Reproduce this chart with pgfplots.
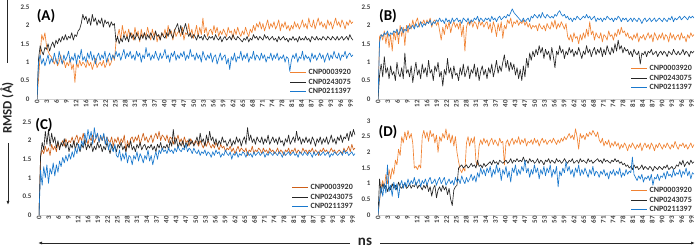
\documentclass[border=0pt]{standalone}
\usepackage{pgfplots}
\usepackage{pgfplotstable}
\pgfplotsset{compat=1.18}
\usepackage{fontspec}
\setmainfont{Carlito}
\usetikzlibrary{arrows.meta}
\definecolor{cor}{RGB}{240,130,50}
\definecolor{corc}{RGB}{205,95,25}
\definecolor{cbk}{RGB}{38,38,38}
\definecolor{cbl}{RGB}{25,120,205}

% ---------------- Panel A ----------------
\pgfplotstableread[row sep=\\]{y\\
0\\0.55\\1.2\\1.75\\1.6\\1.8\\1.45\\1.3\\1.2\\1.15\\
1.05\\0.95\\1.1\\0.9\\1.0\\1.2\\0.95\\1.05\\0.85\\1.0\\
0.9\\1.1\\0.8\\0.95\\0.45\\1.0\\0.85\\1.05\\0.9\\1.0\\
0.95\\0.85\\1.05\\0.9\\1.0\\0.8\\0.95\\1.1\\0.85\\0.95\\
1.0\\0.9\\1.05\\0.85\\0.95\\1.1\\0.9\\1.0\\1.2\\1.05\\
1.55\\1.7\\1.9\\1.6\\2.0\\1.75\\1.85\\1.65\\1.9\\1.7\\
1.8\\1.6\\1.95\\1.7\\1.85\\1.55\\1.9\\1.65\\1.8\\1.7\\
1.95\\1.75\\1.6\\1.9\\1.7\\1.85\\1.55\\1.75\\1.6\\1.8\\
1.7\\1.9\\1.65\\2.0\\1.75\\1.85\\1.6\\1.9\\1.7\\1.8\\
1.85\\1.7\\1.95\\1.6\\1.8\\1.75\\2.05\\1.7\\1.9\\1.65\\
1.8\\2.0\\1.7\\1.95\\1.75\\2.2\\1.8\\1.95\\1.7\\1.85\\
1.9\\1.75\\2.0\\1.8\\1.95\\1.7\\1.85\\1.75\\1.9\\1.8\\
1.7\\1.95\\1.8\\1.85\\1.65\\1.9\\1.75\\1.95\\1.8\\1.7\\
1.85\\1.75\\1.95\\1.8\\1.7\\1.9\\1.8\\2.0\\1.85\\2.05\\
1.95\\2.1\\1.9\\2.05\\1.85\\2.0\\2.15\\1.9\\2.05\\1.95\\
2.1\\1.9\\2.0\\2.15\\1.85\\2.05\\1.95\\2.1\\1.9\\2.0\\
1.85\\2.0\\1.9\\2.1\\1.95\\2.05\\1.9\\2.0\\2.15\\1.95\\
2.05\\1.9\\2.2\\2.0\\1.95\\2.15\\1.9\\2.05\\2.2\\2.0\\
2.1\\1.95\\2.05\\1.9\\2.15\\2.0\\2.1\\1.9\\2.05\\2.2\\
2.0\\2.1\\1.95\\2.15\\2.05\\1.9\\2.1\\2.0\\2.15\\2.05\\2.1\\
}\Ao
\pgfplotstableread[row sep=\\]{y\\
0\\1.1\\1.45\\1.3\\1.2\\1.4\\1.35\\1.5\\1.3\\1.45\\
1.55\\1.4\\1.6\\1.5\\1.65\\1.55\\1.7\\1.6\\1.75\\1.6\\
1.7\\1.65\\1.8\\1.6\\1.75\\1.7\\1.85\\1.9\\2.05\\2.3\\
2.15\\2.25\\2.05\\2.2\\2.0\\2.3\\2.1\\2.2\\2.0\\2.15\\
2.05\\2.2\\1.95\\2.15\\2.05\\2.1\\1.95\\2.1\\2.0\\2.05\\
1.55\\1.7\\1.5\\1.65\\1.55\\1.75\\1.6\\1.7\\1.55\\1.8\\
1.65\\1.75\\1.6\\1.8\\1.7\\1.6\\1.75\\1.65\\1.8\\1.6\\
1.75\\1.65\\1.8\\1.7\\1.6\\1.85\\1.7\\1.75\\1.6\\1.8\\
1.7\\1.65\\1.8\\1.7\\1.9\\1.75\\1.65\\1.85\\1.95\\2.05\\
1.8\\2.0\\1.75\\1.9\\2.05\\1.85\\1.7\\1.8\\1.65\\1.75\\
1.7\\1.6\\1.75\\1.65\\1.7\\1.6\\1.75\\1.65\\1.6\\1.7\\
1.65\\1.7\\1.6\\1.75\\1.65\\1.6\\1.7\\1.55\\1.65\\1.7\\
1.6\\1.65\\1.7\\1.6\\1.75\\1.65\\1.6\\1.7\\1.65\\1.6\\
1.55\\1.65\\1.6\\1.7\\1.55\\1.65\\1.6\\1.75\\1.65\\1.7\\
1.6\\1.7\\1.65\\1.6\\1.75\\1.65\\1.7\\1.6\\1.65\\1.7\\
1.6\\1.65\\1.55\\1.7\\1.6\\1.65\\1.7\\1.6\\1.65\\1.55\\
1.65\\1.6\\1.7\\1.6\\1.65\\1.55\\1.7\\1.6\\1.65\\1.6\\
1.7\\1.6\\1.65\\1.55\\1.7\\1.65\\1.6\\1.7\\1.6\\1.65\\
1.6\\1.7\\1.65\\1.6\\1.7\\1.65\\1.6\\1.7\\1.65\\1.6\\
1.7\\1.6\\1.65\\1.7\\1.6\\1.65\\1.7\\1.6\\1.75\\1.65\\1.6\\
}\Ak
\pgfplotstableread[row sep=\\]{y\\
0\\1.0\\1.2\\0.95\\1.1\\0.9\\1.05\\1.2\\0.95\\1.1\\
1.0\\1.25\\1.05\\0.95\\1.3\\1.1\\0.95\\1.2\\1.05\\1.15\\
1.3\\1.0\\1.15\\1.05\\1.25\\0.95\\1.2\\1.1\\1.35\\1.05\\
1.15\\1.0\\1.25\\1.1\\1.3\\1.05\\1.2\\0.95\\1.15\\1.25\\
1.05\\1.2\\1.1\\1.3\\1.0\\1.15\\1.25\\1.05\\1.2\\1.1\\
1.3\\1.15\\1.25\\1.05\\1.2\\1.35\\1.1\\1.25\\1.15\\1.3\\
1.1\\1.2\\1.05\\1.3\\1.15\\1.25\\1.0\\1.2\\1.1\\1.4\\
1.15\\1.25\\1.05\\1.2\\1.1\\1.3\\1.15\\1.05\\1.25\\1.1\\
1.2\\1.35\\1.1\\1.2\\1.0\\1.25\\1.15\\1.3\\1.05\\1.2\\
1.1\\1.25\\1.15\\1.3\\1.05\\1.2\\1.1\\1.35\\1.15\\1.2\\
1.05\\1.25\\1.1\\1.2\\1.0\\1.3\\1.15\\1.05\\1.2\\1.1\\
1.25\\1.0\\1.15\\1.2\\0.95\\1.1\\1.25\\1.05\\1.15\\1.2\\
0.95\\1.1\\0.8\\1.15\\1.05\\1.25\\1.0\\1.15\\1.1\\1.3\\
1.05\\1.2\\1.1\\1.25\\1.0\\1.15\\1.1\\1.3\\1.05\\1.2\\
1.15\\1.05\\1.25\\1.1\\1.2\\1.0\\1.15\\1.1\\1.25\\1.05\\
1.2\\1.1\\1.25\\1.05\\1.15\\1.1\\1.2\\1.0\\1.15\\1.1\\
0.75\\1.05\\1.2\\1.1\\1.25\\1.0\\1.15\\1.1\\1.3\\1.05\\
1.2\\1.1\\1.15\\1.0\\1.25\\1.1\\1.2\\1.05\\1.15\\1.25\\
1.1\\1.2\\1.0\\1.15\\1.25\\1.05\\1.2\\1.1\\1.3\\1.15\\
1.1\\1.25\\1.05\\1.2\\1.15\\1.3\\1.1\\1.2\\1.25\\1.15\\1.2\\
}\Ab

% ---------------- Panel B ----------------
\pgfplotstableread[row sep=\\]{y\\
0\\1.7\\1.75\\1.6\\1.85\\1.5\\1.8\\1.4\\1.75\\1.3\\
1.85\\1.6\\1.9\\1.5\\2.0\\1.7\\1.95\\1.45\\2.0\\1.8\\
2.05\\1.9\\2.15\\1.95\\2.1\\2.2\\1.95\\2.1\\2.05\\2.15\\
2.0\\2.15\\2.05\\2.2\\1.95\\2.1\\2.15\\2.0\\2.1\\1.85\\
1.6\\1.95\\1.75\\2.05\\1.9\\2.1\\1.8\\2.0\\2.1\\1.95\\
2.05\\1.9\\2.1\\1.7\\2.0\\1.3\\1.95\\2.1\\2.0\\2.15\\
1.95\\2.1\\2.05\\1.9\\2.15\\2.0\\2.1\\1.95\\2.05\\2.1\\
1.9\\2.05\\1.8\\2.1\\1.95\\1.7\\2.05\\1.85\\2.1\\1.65\\
2.0\\1.9\\2.15\\2.05\\2.2\\1.95\\2.1\\2.05\\2.15\\2.0\\
2.1\\2.05\\2.15\\2.0\\2.1\\1.95\\2.05\\1.9\\2.0\\1.95\\
2.0\\1.85\\2.05\\1.95\\1.9\\2.0\\1.85\\2.05\\1.95\\1.9\\
2.1\\1.95\\2.15\\1.9\\2.05\\1.95\\2.1\\2.0\\1.9\\2.05\\
1.7\\1.6\\1.75\\1.55\\1.8\\1.65\\1.7\\1.5\\1.75\\1.6\\
1.8\\1.65\\1.9\\1.7\\2.1\\1.75\\1.85\\1.6\\1.8\\1.7\\
1.65\\1.8\\1.55\\1.75\\1.7\\1.6\\1.85\\1.7\\1.75\\1.6\\
1.8\\1.7\\1.9\\1.75\\1.95\\1.8\\1.85\\1.7\\1.8\\1.65\\
1.7\\1.6\\1.75\\1.65\\1.8\\1.55\\1.7\\1.65\\1.75\\1.6\\
1.7\\1.8\\1.65\\1.75\\1.55\\1.8\\1.7\\1.6\\1.75\\1.65\\
1.8\\1.6\\1.75\\1.7\\1.55\\1.8\\1.65\\1.75\\1.6\\1.7\\
1.75\\1.6\\1.8\\1.65\\1.7\\1.55\\1.75\\1.65\\1.8\\1.7\\1.75\\
}\Bo
\pgfplotstableread[row sep=\\]{y\\
0\\0.65\\0.95\\0.6\\1.15\\0.7\\0.85\\0.55\\0.9\\0.65\\
0.75\\0.5\\1.0\\0.7\\0.6\\0.85\\0.55\\1.25\\0.7\\0.8\\
0.6\\0.9\\0.45\\0.75\\1.0\\0.65\\0.8\\0.55\\0.95\\0.7\\
0.85\\0.6\\1.05\\0.7\\0.8\\0.5\\0.9\\0.75\\1.0\\0.6\\
0.75\\0.35\\0.8\\0.65\\1.1\\0.7\\0.85\\0.55\\0.9\\0.65\\
0.7\\0.5\\0.85\\0.65\\0.95\\0.6\\0.75\\0.9\\0.55\\0.8\\
0.7\\0.95\\0.6\\0.85\\0.5\\0.75\\0.9\\0.65\\0.8\\0.55\\
0.85\\0.7\\0.95\\0.6\\0.8\\1.05\\0.7\\0.9\\0.75\\1.0\\
1.2\\0.85\\1.05\\0.75\\1.0\\0.8\\0.95\\0.65\\0.85\\0.55\\
0.8\\0.5\\0.9\\0.6\\1.1\\0.85\\1.25\\1.05\\1.3\\1.15\\
1.35\\1.2\\1.45\\1.25\\1.4\\1.1\\1.35\\1.2\\1.3\\1.05\\
1.4\\1.15\\0.85\\1.3\\1.2\\1.45\\1.25\\1.35\\1.1\\1.3\\
1.2\\1.4\\1.25\\1.35\\1.15\\1.3\\1.2\\1.4\\1.25\\1.1\\
1.3\\1.2\\1.45\\1.25\\1.35\\1.15\\1.3\\1.4\\1.2\\1.35\\
1.25\\1.4\\1.15\\1.35\\1.2\\1.45\\1.3\\1.2\\1.4\\1.25\\
1.5\\1.3\\1.6\\1.35\\1.45\\1.25\\1.4\\1.3\\1.35\\1.2\\
1.3\\1.15\\1.35\\1.25\\1.2\\1.3\\0.95\\1.25\\1.2\\1.3\\
1.15\\1.3\\1.25\\1.35\\1.2\\1.25\\1.3\\1.15\\1.25\\1.3\\
1.2\\1.3\\1.25\\1.15\\1.3\\1.25\\1.2\\1.35\\1.25\\1.2\\
1.3\\1.2\\1.25\\1.35\\1.2\\1.3\\1.25\\1.15\\1.3\\1.25\\1.3\\
}\Bk
\pgfplotstableread[row sep=\\]{y\\
0\\1.55\\1.75\\1.7\\1.8\\1.75\\1.85\\1.7\\1.8\\1.75\\
1.85\\1.8\\1.9\\1.75\\1.85\\1.95\\1.8\\1.9\\1.85\\2.0\\
1.9\\1.95\\2.0\\1.9\\2.05\\1.95\\2.0\\2.1\\1.95\\2.05\\
2.0\\2.1\\2.05\\2.15\\2.0\\2.1\\2.05\\2.15\\2.1\\2.2\\
2.1\\2.15\\2.05\\2.2\\2.1\\2.15\\2.05\\2.2\\2.1\\2.15\\
2.2\\2.1\\2.15\\2.05\\2.2\\2.15\\2.1\\2.2\\2.05\\2.15\\
2.1\\2.2\\2.15\\2.25\\2.1\\2.2\\2.15\\2.1\\2.2\\2.15\\
2.2\\2.1\\2.25\\2.15\\2.2\\2.1\\2.2\\2.25\\2.15\\2.2\\
2.25\\2.2\\2.3\\2.25\\2.35\\2.45\\2.35\\2.3\\2.25\\2.2\\
2.15\\2.1\\2.2\\2.1\\2.15\\2.2\\2.1\\2.25\\2.2\\2.3\\
2.25\\2.2\\2.3\\2.2\\2.35\\2.25\\2.2\\2.3\\2.25\\2.2\\
2.25\\2.2\\2.3\\2.25\\2.35\\2.4\\2.3\\2.25\\2.3\\2.2\\
2.25\\2.15\\2.2\\2.1\\2.2\\2.15\\2.25\\2.2\\2.15\\2.2\\
2.25\\2.2\\2.3\\2.2\\2.25\\2.15\\2.2\\2.25\\2.1\\2.2\\
2.15\\2.2\\2.1\\2.2\\2.15\\2.25\\2.2\\2.15\\2.2\\2.1\\
2.2\\2.15\\2.25\\2.2\\2.1\\2.2\\2.15\\2.2\\2.1\\2.15\\
2.2\\2.1\\2.2\\2.15\\2.1\\2.2\\2.15\\2.05\\2.15\\2.2\\
2.1\\2.15\\2.2\\2.1\\2.15\\2.2\\2.1\\2.15\\2.2\\2.15\\
2.1\\2.2\\2.15\\2.1\\2.2\\2.15\\2.25\\2.1\\2.2\\2.15\\
2.2\\2.25\\2.15\\2.2\\2.25\\2.2\\2.15\\2.25\\2.2\\2.25\\2.2\\
}\Bb

% ---------------- Panel C ----------------
\pgfplotstableread[row sep=\\]{y\\
0\\1.55\\1.75\\1.65\\1.85\\1.7\\1.8\\1.6\\1.9\\1.75\\
1.85\\1.7\\1.95\\1.8\\1.9\\2.0\\1.85\\2.05\\1.9\\2.0\\
1.95\\2.1\\1.9\\2.05\\2.15\\1.95\\2.1\\2.0\\2.2\\1.95\\
2.05\\1.9\\2.1\\2.0\\2.15\\1.95\\2.05\\2.2\\1.95\\2.1\\
2.0\\2.15\\1.9\\2.1\\2.0\\1.95\\2.1\\1.85\\2.05\\1.95\\
2.1\\1.9\\2.05\\1.95\\2.15\\1.7\\2.0\\1.85\\2.05\\2.1\\
1.95\\2.1\\2.0\\2.15\\1.9\\2.05\\2.2\\2.0\\2.1\\1.95\\
2.05\\2.15\\1.95\\2.1\\2.2\\2.05\\2.25\\2.0\\2.15\\2.1\\
2.0\\2.15\\1.95\\2.1\\2.05\\1.9\\2.1\\2.0\\2.15\\1.95\\
2.05\\1.9\\2.1\\1.95\\2.0\\1.85\\2.05\\1.95\\1.9\\2.0\\
1.95\\1.85\\2.0\\1.9\\1.8\\1.95\\1.85\\2.0\\1.9\\1.8\\
1.9\\1.8\\1.95\\1.85\\1.75\\1.9\\1.8\\1.85\\1.7\\1.8\\
1.75\\1.85\\1.7\\1.8\\1.65\\1.75\\1.85\\1.7\\1.8\\1.75\\
1.7\\1.8\\1.6\\1.75\\1.7\\1.85\\1.65\\1.75\\1.7\\1.8\\
1.75\\1.65\\1.8\\1.7\\1.75\\1.65\\1.8\\1.7\\1.75\\1.65\\
1.7\\1.8\\1.65\\1.75\\1.7\\1.6\\1.75\\1.7\\1.8\\1.65\\
1.75\\1.7\\1.8\\1.65\\1.75\\1.7\\1.65\\1.8\\1.7\\1.75\\
1.65\\1.75\\1.7\\1.8\\1.65\\1.75\\1.7\\1.6\\1.75\\1.7\\
1.8\\1.7\\1.75\\1.65\\1.7\\1.8\\1.7\\1.75\\1.65\\1.7\\
1.75\\1.7\\1.65\\1.8\\1.7\\1.75\\1.85\\1.7\\1.9\\1.75\\1.8\\
}\Co
\pgfplotstableread[row sep=\\]{y\\
0\\1.6\\1.95\\1.75\\2.25\\1.9\\2.3\\1.85\\2.2\\1.95\\
2.1\\1.8\\2.0\\1.75\\1.95\\1.85\\2.05\\1.8\\1.95\\1.7\\
1.9\\1.8\\2.0\\1.75\\1.95\\1.85\\1.7\\1.9\\1.8\\2.0\\
1.75\\1.9\\1.8\\1.95\\1.7\\1.85\\1.75\\1.95\\1.8\\1.9\\
1.7\\1.85\\1.75\\1.95\\1.8\\1.65\\1.9\\1.75\\1.85\\1.7\\
1.9\\1.8\\1.95\\1.75\\1.85\\1.7\\1.9\\1.8\\2.0\\1.75\\
1.85\\1.7\\1.9\\1.8\\1.95\\1.75\\1.85\\1.9\\1.75\\1.85\\
1.8\\1.9\\1.75\\1.85\\1.7\\1.9\\1.8\\1.95\\1.75\\1.85\\
1.8\\1.9\\1.75\\2.0\\1.85\\2.3\\1.9\\2.05\\1.8\\1.95\\
1.85\\2.0\\1.8\\1.95\\1.85\\2.05\\1.9\\2.0\\1.85\\1.95\\
2.1\\1.9\\2.2\\1.95\\2.05\\1.85\\2.15\\1.95\\2.25\\2.0\\
2.1\\1.9\\2.05\\1.85\\2.0\\1.9\\2.1\\1.95\\2.0\\1.85\\
1.95\\2.05\\1.85\\2.0\\1.9\\2.1\\1.95\\2.05\\1.85\\2.0\\
2.1\\1.9\\2.35\\2.0\\2.15\\1.95\\2.05\\1.9\\2.1\\2.0\\
1.95\\2.1\\1.9\\2.05\\1.95\\2.15\\1.9\\2.0\\2.1\\1.95\\
2.05\\1.9\\2.1\\1.95\\2.0\\1.85\\2.05\\1.95\\2.15\\1.9\\
2.0\\2.1\\1.95\\2.25\\2.0\\2.1\\1.9\\2.05\\1.95\\2.1\\
1.95\\2.05\\1.9\\2.1\\2.0\\1.85\\2.05\\1.95\\2.1\\1.9\\
2.05\\1.95\\2.1\\1.9\\2.0\\2.15\\1.95\\2.05\\1.9\\2.1\\
2.0\\2.15\\1.95\\2.1\\2.05\\2.2\\2.0\\2.25\\2.1\\2.3\\2.15\\
}\Ck
\pgfplotstableread[row sep=\\]{y\\
0\\1.2\\0.8\\1.3\\1.0\\1.35\\0.85\\1.25\\1.1\\1.4\\
1.05\\1.35\\1.15\\1.45\\1.3\\1.55\\1.4\\1.6\\1.45\\1.65\\
1.5\\1.7\\1.55\\1.8\\1.65\\1.9\\1.75\\2.0\\1.85\\2.2\\
1.95\\2.3\\2.05\\2.25\\1.9\\2.35\\2.05\\2.2\\1.95\\2.15\\
2.0\\2.2\\1.9\\2.1\\1.75\\1.95\\1.8\\1.7\\1.9\\1.6\\
1.55\\1.75\\1.45\\1.65\\1.5\\1.7\\1.4\\1.6\\1.55\\1.35\\
1.6\\1.5\\1.7\\1.45\\1.65\\1.55\\1.4\\1.6\\1.5\\1.75\\
1.45\\1.6\\1.35\\1.55\\1.7\\1.5\\1.75\\1.65\\1.8\\1.7\\
1.75\\1.65\\1.8\\1.7\\1.75\\1.65\\1.8\\1.7\\1.85\\1.75\\
1.7\\1.8\\1.75\\1.9\\1.7\\1.8\\1.75\\1.65\\1.8\\1.7\\
1.65\\1.75\\1.6\\1.7\\1.65\\1.75\\1.6\\1.7\\1.65\\1.55\\
1.7\\1.6\\1.75\\1.65\\1.7\\1.55\\1.65\\1.6\\1.75\\1.65\\
1.6\\1.7\\1.5\\1.65\\1.6\\1.7\\1.55\\1.65\\1.6\\1.7\\
1.65\\1.55\\1.7\\1.6\\1.65\\1.55\\1.7\\1.6\\1.65\\1.7\\
1.6\\1.65\\1.7\\1.55\\1.65\\1.6\\1.7\\1.65\\1.6\\1.7\\
1.65\\1.6\\1.7\\1.65\\1.55\\1.7\\1.6\\1.65\\1.7\\1.6\\
1.65\\1.7\\1.6\\1.65\\1.55\\1.7\\1.65\\1.6\\1.7\\1.65\\
1.6\\1.7\\1.65\\1.55\\1.7\\1.6\\1.65\\1.7\\1.6\\1.65\\
1.7\\1.6\\1.65\\1.7\\1.55\\1.65\\1.6\\1.7\\1.65\\1.6\\
1.65\\1.7\\1.6\\1.75\\1.65\\1.7\\1.6\\1.65\\1.7\\1.6\\1.65\\
}\Cb

% ---------------- Panel D ----------------
\pgfplotstableread[row sep=\\]{y\\
0\\0.45\\0.9\\1.1\\0.85\\1.3\\1.0\\1.45\\1.15\\1.5\\
1.3\\1.75\\1.6\\2.1\\1.9\\2.5\\2.3\\2.65\\2.4\\2.7\\
2.45\\2.6\\2.3\\1.5\\1.55\\1.45\\1.6\\1.5\\2.5\\2.7\\
2.45\\2.65\\2.35\\2.7\\2.5\\2.6\\2.3\\2.55\\2.0\\2.5\\
2.35\\2.6\\2.45\\2.75\\2.4\\2.6\\2.3\\2.55\\2.2\\2.5\\
2.0\\1.7\\1.45\\1.35\\1.5\\1.4\\2.3\\2.5\\2.2\\2.45\\
2.3\\2.5\\1.7\\1.6\\2.2\\2.4\\2.25\\2.45\\2.3\\2.4\\
2.2\\2.35\\2.45\\2.25\\2.4\\2.3\\2.2\\2.45\\2.3\\2.35\\
1.6\\2.3\\2.4\\2.2\\2.35\\2.45\\2.25\\2.4\\2.3\\2.5\\
2.25\\2.4\\2.3\\2.45\\2.2\\2.35\\2.3\\2.4\\2.25\\2.45\\
2.3\\2.4\\2.2\\2.35\\2.45\\2.3\\2.4\\2.25\\2.35\\2.4\\
2.3\\2.45\\2.35\\2.25\\2.4\\2.3\\2.45\\2.35\\2.5\\2.4\\
2.5\\2.6\\2.45\\2.55\\2.4\\2.75\\2.5\\2.1\\2.6\\2.45\\
2.55\\2.4\\2.6\\2.5\\2.65\\2.55\\2.7\\2.6\\2.5\\2.65\\
2.4\\2.3\\2.45\\2.2\\2.35\\2.25\\2.4\\2.15\\2.3\\2.2\\
2.35\\2.2\\2.3\\2.1\\2.25\\2.15\\2.3\\2.2\\2.05\\2.25\\
2.15\\2.3\\2.2\\2.1\\2.25\\2.15\\2.3\\2.05\\2.2\\2.3\\
2.15\\2.25\\2.1\\2.3\\2.2\\2.05\\2.25\\2.15\\2.3\\2.2\\
2.1\\2.25\\2.15\\2.3\\2.2\\2.1\\2.25\\2.15\\2.35\\2.2\\
2.1\\2.25\\2.2\\2.3\\2.15\\2.25\\2.1\\2.2\\2.3\\2.15\\2.25\\
}\Do
\pgfplotstableread[row sep=\\]{y\\
0\\1.15\\0.7\\1.0\\0.85\\0.95\\0.75\\0.9\\0.8\\1.0\\
0.85\\0.95\\0.8\\1.05\\0.9\\0.85\\0.95\\1.0\\0.85\\0.9\\
1.0\\0.85\\0.95\\0.9\\1.05\\0.85\\0.95\\0.9\\0.8\\0.95\\
0.85\\1.0\\0.75\\0.9\\0.6\\0.85\\0.95\\0.55\\0.8\\0.9\\
0.75\\0.95\\0.8\\0.9\\0.65\\0.85\\0.5\\0.3\\0.8\\0.9\\
0.95\\1.5\\1.55\\1.6\\1.5\\1.55\\1.6\\1.5\\1.55\\1.65\\
1.55\\1.6\\1.5\\1.75\\1.55\\1.6\\1.5\\1.65\\1.55\\1.6\\
1.65\\1.7\\1.6\\1.75\\1.65\\1.7\\1.6\\1.75\\1.7\\1.65\\
1.7\\1.75\\1.65\\1.7\\1.8\\1.65\\1.75\\1.7\\1.8\\1.7\\
1.75\\1.7\\1.85\\1.7\\1.75\\1.65\\1.8\\1.7\\1.75\\1.65\\
1.7\\1.8\\1.65\\1.75\\1.7\\1.6\\1.75\\1.7\\1.8\\1.65\\
1.75\\1.7\\1.65\\1.8\\1.7\\1.75\\1.65\\1.7\\1.8\\1.7\\
1.65\\1.75\\1.7\\1.8\\1.65\\1.7\\1.75\\1.65\\1.8\\1.7\\
1.75\\1.7\\1.65\\1.8\\1.7\\1.75\\1.65\\1.7\\1.75\\1.8\\
1.7\\1.75\\1.65\\1.8\\1.7\\1.75\\1.7\\1.65\\1.75\\1.7\\
1.8\\1.7\\1.75\\1.65\\1.7\\1.6\\1.65\\1.55\\1.6\\1.5\\
1.55\\1.45\\1.6\\1.5\\1.55\\1.45\\1.5\\1.6\\1.45\\1.55\\
1.5\\1.45\\1.55\\1.5\\1.4\\1.55\\1.5\\1.45\\1.55\\1.5\\
1.45\\1.55\\1.5\\1.6\\1.45\\1.5\\1.55\\1.45\\1.5\\1.6\\
1.55\\1.7\\1.6\\1.75\\1.55\\1.65\\1.7\\1.6\\1.75\\1.65\\1.7\\
}\Dk
\pgfplotstableread[row sep=\\]{y\\
0\\0.5\\0.9\\0.6\\1.0\\0.7\\1.6\\0.75\\0.95\\0.6\\
1.05\\0.8\\1.0\\0.55\\0.95\\1.1\\0.85\\1.05\\0.9\\1.15\\
0.95\\1.1\\1.0\\1.2\\0.95\\1.05\\1.15\\0.9\\1.1\\1.0\\
1.15\\0.95\\1.1\\1.2\\1.0\\1.05\\1.15\\0.95\\1.1\\1.2\\
1.0\\1.1\\1.2\\0.95\\1.05\\1.15\\1.0\\1.1\\0.95\\1.2\\
1.05\\1.15\\1.0\\1.25\\1.1\\1.0\\1.2\\1.05\\1.15\\1.3\\
1.1\\1.25\\1.05\\1.35\\1.2\\1.5\\1.3\\1.45\\1.25\\1.5\\
1.35\\1.55\\1.2\\1.45\\1.3\\1.6\\1.35\\1.5\\1.1\\1.45\\
1.3\\1.55\\1.2\\1.4\\1.05\\1.5\\1.35\\1.6\\1.25\\1.45\\
1.3\\1.55\\1.4\\1.75\\1.35\\1.5\\1.2\\1.45\\1.3\\1.6\\
1.35\\1.5\\1.15\\1.45\\1.3\\1.55\\1.25\\1.5\\1.35\\1.6\\
1.2\\1.45\\1.3\\1.55\\0.9\\1.4\\1.25\\1.5\\1.35\\1.7\\
1.4\\1.55\\1.3\\1.45\\1.2\\1.5\\1.35\\1.6\\1.25\\1.45\\
1.3\\1.5\\1.35\\1.2\\1.45\\1.3\\1.55\\1.25\\1.4\\1.35\\
1.2\\1.4\\1.3\\1.45\\1.25\\1.35\\1.15\\1.4\\1.3\\1.45\\
1.25\\1.4\\1.3\\1.5\\1.2\\1.35\\1.25\\1.45\\1.3\\1.4\\
1.35\\1.85\\1.3\\1.2\\1.1\\1.25\\1.15\\1.3\\1.05\\1.2\\
1.15\\1.25\\1.1\\1.3\\0.95\\1.2\\1.15\\1.3\\1.1\\1.25\\
1.2\\1.35\\1.15\\1.4\\1.25\\1.3\\1.2\\1.45\\1.25\\1.35\\
1.3\\1.45\\1.2\\1.4\\1.3\\1.5\\1.25\\1.4\\1.15\\1.35\\1.3\\
}\Db

\pgfplotsset{
  panel/.style={
    scale only axis, width=316pt, xmin=0, xmax=100, ymin=0,
    axis x line*=bottom, axis y line*=left,
    x axis line style={draw=black!18, line width=0.8pt},
    y axis line style={draw=none},
    major tick length=0pt,
    xtick={0,3.1,6.2,9.3,12.4,15.5,18.6,21.7,24.8,27.9,31,34.1,37.2,40.3,43.4,46.5,49.6,52.7,55.8,58.9,62,65.1,68.2,71.3,74.4,77.5,80.6,83.7,86.8,89.9,93,96.1,99.2},
    xticklabels={0,3,6,9,12,16,19,22,25,28,31,34,37,40,43,47,50,53,56,59,62,65,68,71,74,78,81,84,87,90,93,96,99},
    x tick label style={rotate=90, anchor=east, font=\fontsize{7}{8}\selectfont\bfseries, text=black!75, inner sep=1pt},
    y tick label style={font=\fontsize{7}{8}\selectfont\bfseries, text=black!75, xshift=-4pt},
    /pgf/number format/assume math mode=true,
    every axis plot/.append style={line width=0.65pt, mark=none, line join=round},
    legend cell align=left,
    legend image code/.code={\draw[#1, line width=1pt] (0pt,0pt) -- (16pt,0pt);},
    legend style={draw=none, fill=none, at={(1,0)}, anchor=south east,
      font=\fontsize{8}{9}\selectfont\bfseries, text=black!80,
      inner sep=0pt, row sep=-1.5pt},
  },
  p25/.style={ymax=2.5, ytick={0,0.5,1,1.5,2,2.5}},
  p3/.style={ymax=3, ytick={0,0.5,1,1.5,2,2.5,3}},
}

\begin{document}
\begin{tikzpicture}[x=1pt,y=1pt]
\useasboundingbox (0,0) rectangle (696,249);

% Panel A
\begin{axis}[panel, p25, at={(37pt,150pt)}, anchor=south west, height=92pt,
  legend style={yshift=2pt}]
\addplot[cor] table[x expr=\coordindex*0.5, y=y] {\Ao};
\addplot[cbk] table[x expr=\coordindex*0.5, y=y] {\Ak};
\addplot[cbl] table[x expr=\coordindex*0.5, y=y] {\Ab};
\legend{CNP0003920,CNP0243075,CNP0211397}
\end{axis}

% Panel B
\begin{axis}[panel, p25, at={(378pt,150pt)}, anchor=south west, height=92pt,
  legend style={yshift=6pt}]
\addplot[cor] table[x expr=\coordindex*0.5, y=y] {\Bo};
\addplot[cbk] table[x expr=\coordindex*0.5, y=y] {\Bk};
\addplot[cbl] table[x expr=\coordindex*0.5, y=y] {\Bb};
\legend{CNP0003920,CNP0243075,CNP0211397}
\end{axis}

% Panel C
\begin{axis}[panel, p25, at={(39pt,34pt)}, anchor=south west, height=93pt,
  legend style={yshift=3pt}]
\addplot[corc] table[x expr=\coordindex*0.5, y=y] {\Co};
\addplot[cbk] table[x expr=\coordindex*0.5, y=y] {\Ck};
\addplot[cbl] table[x expr=\coordindex*0.5, y=y] {\Cb};
\legend{CNP0003920,CNP0243075,CNP0211397}
\end{axis}

% Panel D
\begin{axis}[panel, p3, at={(378pt,34pt)}, anchor=south west, height=94pt,
  legend style={yshift=0pt}]
\addplot[cor] table[x expr=\coordindex*0.5, y=y] {\Do};
\addplot[cbk] table[x expr=\coordindex*0.5, y=y] {\Dk};
\addplot[cbl] table[x expr=\coordindex*0.5, y=y] {\Db};
\legend{CNP0003920,CNP0243075,CNP0211397}
\end{axis}

% panel letters
\node[font=\fontsize{15}{16}\selectfont\bfseries] at (46,233) {(A)};
\node[font=\fontsize{15}{16}\selectfont\bfseries] at (388,233) {(B)};
\node[font=\fontsize{15}{16}\selectfont\bfseries] at (44,124) {(C)};
\node[font=\fontsize{15}{16}\selectfont\bfseries] at (388,117) {(D)};

% y label with line and arrow
\draw[black!85, line width=0.8pt] (7,249) -- (7,186);
\node[rotate=90, font=\fontsize{13}{14}\selectfont\bfseries, text=black!85] at (7,141) {RMSD (Å)};
\draw[black!85, line width=0.8pt, -{Latex[length=4pt,width=3pt]}] (8,106) -- (8,44);

% x label with arrows
\node[font=\fontsize{15}{16}\selectfont\bfseries, text=black!85, anchor=base, inner sep=0pt] at (365,3) {ns};
\draw[black!85, line width=0.8pt, -{Latex[length=4pt,width=3pt]}] (350,6) -- (38,6);
\draw[black!85, line width=0.8pt, -{Latex[length=4pt,width=3pt]}] (380,6) -- (695,6);
\end{tikzpicture}
\end{document}
